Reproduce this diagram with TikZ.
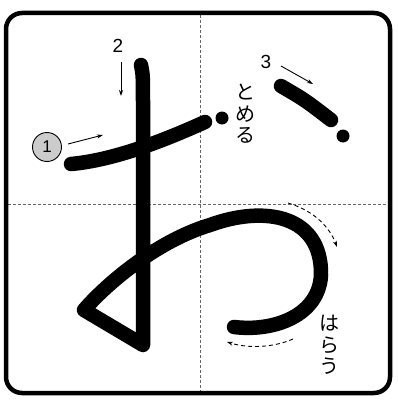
\documentclass[tikz,border=0pt]{standalone}
\usepackage{fontspec}
\setmainfont{Liberation Sans}
\newfontfamily\jpfont{Noto Sans CJK JP}
\usetikzlibrary{arrows.meta}

\begin{document}
\begin{tikzpicture}[x=1pt, y=-1pt, >={Stealth[length=6pt,width=4pt]},
	brush/.style={line width=14.5pt, line cap=round, line join=round},
	guide/.style={densely dashed, line width=0.7pt, black!60},
	hint/.style={->, line width=0.9pt},
	dhint/.style={->, line width=0.9pt, dash pattern=on 4pt off 3pt},
	digit/.style={font=\fontsize{19}{19}\selectfont, inner sep=0pt},
	kana/.style={font=\jpfont\fontsize{20}{21.5}\selectfont, align=center, inner sep=0pt}]
	\useasboundingbox (0,0) rectangle (397,404);
	
	% Frame and guide lines
	\draw[guide] (8,204) -- (388,204);
	\draw[guide] (200,15) -- (200,391);
	\draw[line width=4.5pt, rounded corners=16pt] (6,13) rectangle (390,393);
	
	% Stroke 1
	\draw[brush] (71,164) .. controls (115,160) and (165,140) .. (205,122);
	\fill (222,118) circle (6.5);
	
	% Stroke 2 (down, loop, big curve)
	\draw[brush] (141,65) .. controls (143,75) .. (143,110) -- (143,345) -- (84,310)
		.. controls (110,280) and (160,240) .. (210,225)
		.. controls (265,205) and (322,215) .. (321,275)
		.. controls (319,315) and (275,332) .. (234,327);
	
	% Stroke 3
	\draw[brush] (281,86) .. controls (305,100) .. (331,120);
	\fill (343,136) circle (6.5);
	
	% Order numbers
	\node[circle, draw, fill=black!20, line width=0.9pt, minimum size=29pt, inner sep=0pt,
		font=\fontsize{17}{17}\selectfont] (num1) at (47,147) {1};
	\node[digit] (num2) at (118,46) {2};
	\node[digit] (num3) at (266,62) {3};
	
	% Direction arrows
	\coordinate (a1s) at (68,144);
	\coordinate (a1e) at (103,135);
	\coordinate (a2s) at (121,62);
	\coordinate (a2e) at (121,96);
	\coordinate (a3s) at (281,66);
	\coordinate (a3e) at (313,84);
	\draw[hint] (a1s) -- (a1e);
	\draw[hint] (a2s) -- (a2e);
	\draw[hint] (a3s) -- (a3e);
	
	% Dashed hints along the curve
	\coordinate (c1s) at (288,203);
	\coordinate (c1e) at (337,247);
	\coordinate (c2s) at (293,339);
	\coordinate (c2e) at (227,342);
	\draw[dhint] (c1s) .. controls (315,211) and (330,228) .. (c1e);
	\draw[dhint] (c2s) .. controls (275,347) and (250,349) .. (c2e);
	
	% Labels
	\node[kana] (tome) at (245,114) {と\\め\\る};
	\node[kana] (harau) at (329,345) {は\\ら\\う};
\end{tikzpicture}
\end{document}
